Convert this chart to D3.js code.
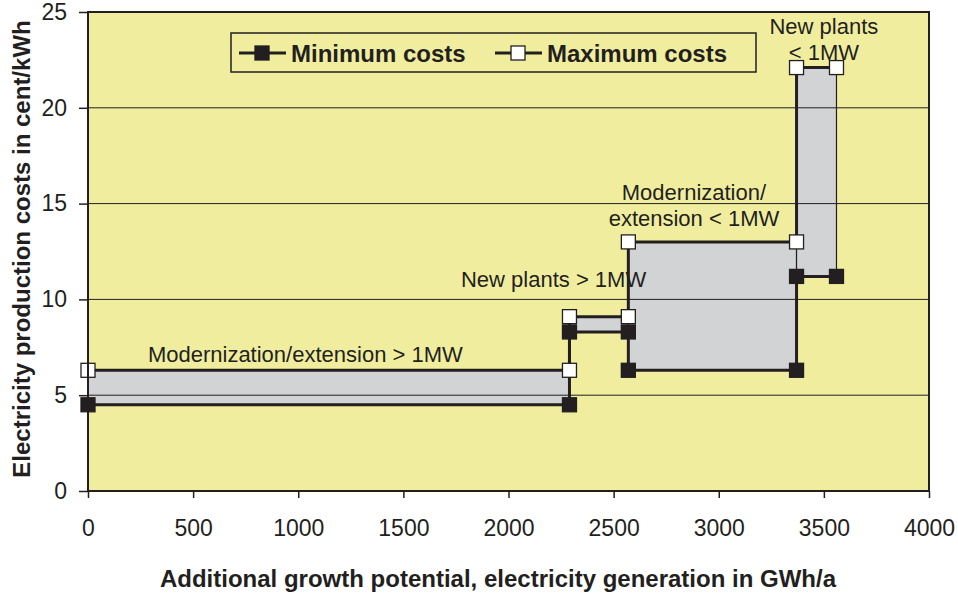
<!DOCTYPE html>
<html>
<head>
<meta charset="utf-8">
<script src="https://cdn.jsdelivr.net/npm/d3@7"></script>
<style>
  body { margin: 0; background: #fff; }
  text { font-family: "Liberation Sans", Arial, sans-serif; fill: #231f20; }
</style>
</head>
<body>
<div id="chart"></div>
<script>
// step points, GWh/a
const potential = [0, 2290, 2290, 2570, 2570, 3370, 3370, 3560];
// cent/kWh
const minCosts = [4.5, 4.5, 8.3, 8.3, 6.3, 6.3, 11.2, 11.2];
const maxCosts = [6.3, 6.3, 9.1, 9.1, 13.0, 13.0, 22.1, 22.1];
const seriesNames = ['Minimum costs', 'Maximum costs'];
const xTicks = [0, 500, 1000, 1500, 2000, 2500, 3000, 3500, 4000];
const yTicks = [0, 5, 10, 15, 20, 25];
const segmentLabels = [
    ['Modernization/extension > 1MW'],
    ['New plants > 1MW'],
    ['Modernization/', 'extension < 1MW'],
    ['New plants', '< 1MW']
];

const W = 958, H = 597;
const margin = { top: 12, right: 29, bottom: 106, left: 88 };
const width = W - margin.left - margin.right;
const height = H - margin.top - margin.bottom;
const ink = '#231f20';

let svg = d3.select('#chart').append('svg')
    .attr('width', W)
    .attr('height', H);

let g = svg.append('g')
    .attr('transform', `translate(${margin.left},${margin.top})`);

let x = d3.scaleLinear().domain([0, 4000]).range([0, width]);
let y = d3.scaleLinear().domain([0, 25]).range([height, 0]);

// plot background
g.append('rect')
    .attr('width', width)
    .attr('height', height)
    .attr('fill', '#f0ee9e');

// gray bands between min and max, one per segment
let segments = d3.range(0, potential.length, 2);
g.append('g').selectAll('rect').data(segments).enter().append('rect')
    .attr('x', i => x(potential[i]))
    .attr('y', i => y(maxCosts[i]))
    .attr('width', i => x(potential[i + 1]) - x(potential[i]))
    .attr('height', i => y(minCosts[i]) - y(maxCosts[i]))
    .attr('fill', '#d1d3d4')
    .attr('stroke', ink)
    .attr('stroke-width', 1.2);

// gridlines
g.append('g').selectAll('line').data(yTicks.filter(d => d > 0 && d < 25)).enter().append('line')
    .attr('x1', 0).attr('x2', width)
    .attr('y1', d => y(d)).attr('y2', d => y(d))
    .attr('stroke', ink)
    .attr('stroke-width', 1);

// series lines
let line = d3.line().x(d => x(d[0])).y(d => y(d[1]));
let series = [minCosts, maxCosts].map(vals => potential.map((p, i) => [p, vals[i]]));

g.append('g').selectAll('path').data(series).enter().append('path')
    .attr('d', d => line(d))
    .attr('fill', 'none')
    .attr('stroke', ink)
    .attr('stroke-width', 3);

// markers
let ms = 14;
series.forEach((s, k) => {
    g.append('g').selectAll('rect').data(s).enter().append('rect')
        .attr('x', d => x(d[0]) - ms / 2)
        .attr('y', d => y(d[1]) - ms / 2)
        .attr('width', ms)
        .attr('height', ms)
        .attr('fill', k === 0 ? ink : '#fff')
        .attr('stroke', ink)
        .attr('stroke-width', 1.3);
});

// frame
g.append('rect')
    .attr('width', width)
    .attr('height', height)
    .attr('fill', 'none')
    .attr('stroke', ink)
    .attr('stroke-width', 2);

// axes
let yAxis = g.append('g')
    .call(d3.axisLeft(y).tickValues(yTicks).tickSize(9).tickPadding(12).tickSizeOuter(0));
let xAxis = g.append('g')
    .attr('transform', `translate(0,${height})`)
    .call(d3.axisBottom(x).tickValues(xTicks).tickFormat(d3.format('d'))
        .tickSize(7).tickPadding(22).tickSizeOuter(0));
[xAxis, yAxis].forEach(a => {
    a.select('.domain').remove();
    a.selectAll('.tick line').attr('stroke', ink).attr('stroke-width', 1.5);
    a.selectAll('.tick text')
        .style('font-family', '"Liberation Sans", Arial, sans-serif')
        .style('font-size', '23px')
        .attr('fill', ink);
});

// segment labels
let labelSpots = [
    { x: 285, y: 6.75, anchor: 'start' },
    { x: 1774, y: 10.65, anchor: 'start' },
    { x: 2882, y: 15.19, anchor: 'middle' },
    { x: 3500, y: 23.85, anchor: 'middle' }
];
segmentLabels.forEach((lines, i) => {
    let t = g.append('text')
        .attr('x', x(labelSpots[i].x))
        .attr('y', y(labelSpots[i].y))
        .attr('text-anchor', labelSpots[i].anchor)
        .style('font-size', '22px');
    lines.forEach((l, j) => {
        t.append('tspan')
            .attr('x', x(labelSpots[i].x))
            .attr('dy', j === 0 ? 0 : 26)
            .text(l);
    });
});

// legend
let legend = svg.append('g');
legend.append('rect')
    .attr('x', 231).attr('y', 33)
    .attr('width', 525).attr('height', 39)
    .attr('fill', 'none')
    .attr('stroke', ink)
    .attr('stroke-width', 1.5);
let legendX = [239, 495];
seriesNames.forEach((name, k) => {
    let lx = legendX[k];
    legend.append('line')
        .attr('x1', lx).attr('x2', lx + 47)
        .attr('y1', 53).attr('y2', 53)
        .attr('stroke', ink).attr('stroke-width', 3);
    legend.append('rect')
        .attr('x', lx + 23 - ms / 2).attr('y', 53 - ms / 2)
        .attr('width', ms).attr('height', ms)
        .attr('fill', k === 0 ? ink : '#fff')
        .attr('stroke', ink).attr('stroke-width', 1.3);
    legend.append('text')
        .attr('x', lx + 52).attr('y', 62)
        .style('font-size', '24px')
        .style('font-weight', 'bold')
        .text(name);
});

// axis titles
svg.append('text')
    .attr('x', 498).attr('y', 587)
    .attr('text-anchor', 'middle')
    .style('font-size', '24px')
    .style('font-weight', 'bold')
    .text('Additional growth potential, electricity generation in GWh/a');

svg.append('text')
    .attr('transform', 'translate(30,249) rotate(-90)')
    .attr('text-anchor', 'middle')
    .style('font-size', '24px')
    .style('font-weight', 'bold')
    .text('Electricity production costs in cent/kWh');
</script>
</body>
</html>
